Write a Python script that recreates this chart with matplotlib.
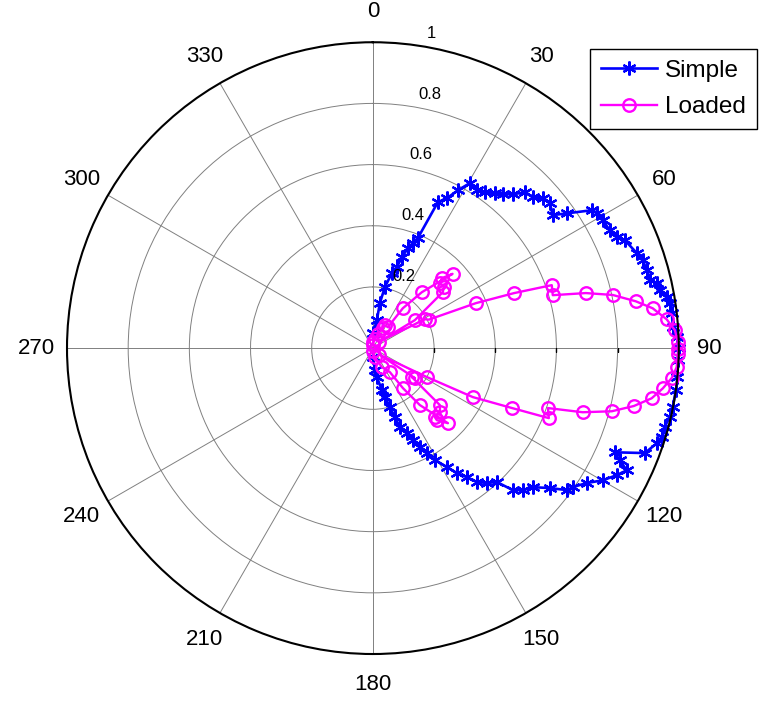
import numpy as np
import matplotlib
matplotlib.use("Agg")
import matplotlib.pyplot as plt

plt.rcParams['font.family'] = ['Liberation Sans', 'DejaVu Sans']

# Simple antenna pattern (angle in degrees, clockwise from top)
simple_deg = [0, 8.1, 8.8, 11.1, 14.2, 16.5, 17.7, 19.3, 20.9, 22.2,
              24.0, 26.3, 28.3, 30.4, 33.4, 35.7, 38.2, 40.2, 42.3, 44.3,
              46.7, 48.6, 50.7, 53.5, 55.2, 57.8, 58.9, 60.9, 63.5, 65.5,
              66.8, 70.2, 72.0, 74.1, 76.2, 77.1, 78.6, 80.2, 81.4, 83.3,
              86.0, 87.9, 90.0, 92.3, 95.4, 97.8, 101.1, 103.1, 105.1, 107.1,
              108.5, 111.1, 113.3, 114.4, 115.7, 117.5, 119.9, 122.2, 124.8, 126.2,
              128.3, 131.0, 133.4, 135.4, 137.2, 139.8, 142.2, 143.9, 146.1, 148.1,
              151.0, 152.8, 154.6, 156.5, 158.2, 161.1, 162.3, 163.9, 166.0, 167.9,
              172.1, 174.8, 180.0]
simple_r = [0.049, 0.092, 0.149, 0.203, 0.253, 0.276, 0.312, 0.346, 0.367, 0.388,
            0.522, 0.547, 0.586, 0.625, 0.618, 0.628, 0.645, 0.659, 0.680, 0.712,
            0.719, 0.741, 0.748, 0.731, 0.772, 0.846, 0.855, 0.860, 0.865, 0.876,
            0.896, 0.917, 0.928, 0.931, 0.932, 0.952, 0.957, 0.975, 0.982, 0.984,
            0.983, 0.994, 1.000, 0.997, 1.000, 1.000, 0.999, 0.996, 0.988, 0.988,
            0.979, 0.953, 0.861, 0.886, 0.921, 0.899, 0.867, 0.827, 0.796, 0.786,
            0.738, 0.693, 0.675, 0.652, 0.597, 0.577, 0.554, 0.522, 0.492, 0.458,
            0.418, 0.386, 0.358, 0.328, 0.299, 0.273, 0.237, 0.201, 0.163, 0.140,
            0.096, 0.072, 0.030]

# Loaded antenna pattern
loaded_deg = [0, 5, 12, 20, 26.6, 27.6, 35.5, 36.9, 41.2, 47.0,
              44.6, 45.9, 49.3, 51.3, 56.3, 45.0, 61.0, 63.0, 66.4, 68.7,
              70.6, 73.6, 75.5, 77.5, 79.9, 81.9, 84.4, 86.6, 88.9, 90.2,
              91.1, 93.6, 95.7, 97.9, 100.2, 102.5, 104.8, 107.0, 108.9, 111.7,
              113.3, 116.1, 118.2, 135.0, 125.5, 126.6, 130.4, 133.7, 138.1, 138.4,
              135.0, 140.5, 143.1, 144.7, 154.7, 168.0, 180.0]
loaded_r = [0.01, 0.02, 0.03, 0.05, 0.073, 0.085, 0.084, 0.163, 0.243, 0.356,
            0.321, 0.305, 0.306, 0.293, 0.165, 0.03, 0.195, 0.205, 0.367, 0.495,
            0.620, 0.613, 0.719, 0.803, 0.873, 0.924, 0.965, 0.989, 0.997, 0.997,
            0.997, 0.995, 0.982, 0.957, 0.926, 0.874, 0.808, 0.717, 0.605, 0.619,
            0.495, 0.364, 0.200, 0.03, 0.169, 0.159, 0.288, 0.303, 0.303, 0.315,
            0.347, 0.241, 0.163, 0.096, 0.069, 0.03, 0.01]

angle_ticks = list(range(0, 360, 30))
r_ticks = [0.2, 0.4, 0.6, 0.8, 1.0]

fig = plt.figure(figsize=(7.61, 7.04), dpi=100)
ax = fig.add_axes([0.088, 0.071, 0.804, 0.869], projection='polar')
ax.set_theta_zero_location('N')
ax.set_theta_direction(-1)
ax.set_ylim(0, 1)

ax.set_xticks(np.deg2rad(angle_ticks))
ax.set_xticklabels([])
ax.set_yticks(r_ticks[:-1])
ax.set_yticklabels([])
ax.grid(True, color='#808080', lw=0.7)
ax.spines['polar'].set_color('black')
ax.spines['polar'].set_linewidth(1.5)

# small ticks on the 90 degree spoke
ax.plot(np.deg2rad([90] * 4), r_ticks[:-1], ls='', marker=3, ms=3,
        color='black', mew=1)

ax.plot(np.deg2rad(simple_deg), simple_r, color='#0000ff', lw=1.9,
        marker=(6, 2, 0), ms=10, mew=1.6, label='Simple', clip_on=False)
ax.plot(np.deg2rad(loaded_deg), loaded_r, color='#ff00ff', lw=1.7,
        marker='o', ms=9, mfc='none', mew=1.7, label='Loaded', clip_on=False)

for a in angle_ticks:
    ax.text(np.deg2rad(a), 1.1, str(a), ha='center', va='center',
            fontsize=16)

for r in r_ticks:
    ax.annotate('%g' % r, xy=(np.deg2rad(8), r), xytext=(8, 5),
                textcoords='offset points', ha='left', va='baseline',
                fontsize=12)

leg = fig.legend(loc='upper right', bbox_to_anchor=(0.995, 0.931),
                 fontsize=17.5, fancybox=False, framealpha=1,
                 handlelength=2.3, handletextpad=0.35, labelspacing=0.6,
                 borderpad=0.45, borderaxespad=0)
leg.get_frame().set_edgecolor('black')
leg.get_frame().set_linewidth(1.0)

fig.savefig('out.png', dpi=100)
